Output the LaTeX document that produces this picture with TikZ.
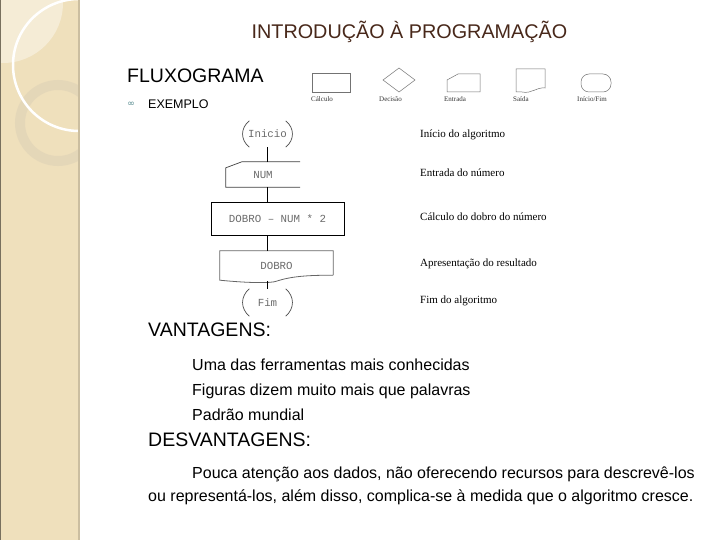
\documentclass[tikz,border=0pt]{standalone}
\usepackage{fontspec}
\setmainfont{Liberation Sans}
\newfontfamily\serifa{Liberation Serif}
\newfontfamily\monoa{Liberation Mono}
\newfontfamily\simbolo{DejaVu Sans}
\usepackage{xcolor}
\usetikzlibrary{calc}
\usetikzlibrary{shapes}

\definecolor{faixa}{RGB}{239,224,188}
\definecolor{faixaborda}{RGB}{203,190,160}
\definecolor{clara}{RGB}{245,236,214}
\definecolor{anel}{RGB}{226,213,184}
\definecolor{titulo}{RGB}{72,40,26}
\definecolor{marca}{RGB}{82,136,140}

\tikzset{
  fluxo/.style={inner sep=0pt, font=\monoa\fontsize{10.8}{11}\selectfont, text=black!58},
  legpeca/.style={draw=black!55, line width=0.5pt},
  rotulo/.style={anchor=base west, inner sep=0pt, font=\serifa\fontsize{7}{8}\selectfont, text=black!80},
  nota/.style={anchor=base west, inner sep=0pt, font=\serifa\fontsize{11}{12}\selectfont},
  cabeca/.style={anchor=base west, inner sep=0pt, font=\fontsize{19.5}{22}\selectfont},
  item/.style={anchor=base west, inner sep=0pt, font=\fontsize{16}{18}\selectfont}
}

\begin{document}
\begin{tikzpicture}[x=1pt,y=-1pt]
\useasboundingbox (0,0) rectangle (720,540);
\fill[white] (0,0) rectangle (720,540);

\fill[faixa] (0,0) rectangle (78,540);
\begin{scope}
\clip (0,0) rectangle (78,540);
\fill[clara] (3,3) circle (60);
\draw[anel, line width=10, opacity=0.8] (58,123) circle (38);
\draw[white, line width=2.5] (79,65) circle (66);
\end{scope}
\fill[faixaborda] (78,0) rectangle (80,540);
\draw[black!50!faixa] (0.5,0) -- (0.5,540);

\node[inner sep=0pt, font=\fontsize{19.8}{22}\selectfont, text=titulo] (titulo) at (409.5,32) {INTRODUÇÃO À PROGRAMAÇÃO};
\node[cabeca] (fluxograma) at (127,83) {FLUXOGRAMA};
\node[inner sep=0pt, font=\simbolo\fontsize{9}{9}\selectfont, text=marca] (bala) at (131,104) {∞};
\node[anchor=base west, inner sep=0pt, font=\fontsize{12.5}{14}\selectfont] (exemplo) at (148,108.5) {EXEMPLO};

\draw[legpeca] (312,73) rectangle (350,92);
\draw[legpeca] (383,80) -- (399,68) -- (415,80) -- (399,92) -- cycle;
\draw[legpeca] (480,74) -- (458,74) -- (447,80) -- (447,92) -- (480,92) -- cycle;
\draw[legpeca] (516,69) -- (545,69) -- (545,88) .. controls (536,87) and (532,94) .. (522,92) -- (516,92) -- cycle;
\draw[legpeca, rounded corners=8] (581,74) rectangle (611,92);
\node[rotulo] (lcalc) at (311,102) {Cálculo};
\node[rotulo] (ldec) at (379,102) {Decisão};
\node[rotulo] (lent) at (444,102) {Entrada};
\node[rotulo] (lsai) at (513,102) {Saída};
\node[rotulo] (lini) at (577,102) {Início/Fim};

\node[fluxo, minimum width=50, minimum height=26] (ini) at (267.5,134) {Inicio};
\node[fluxo, minimum width=74, minimum height=25] (ent) at (263,174.5) {NUM};
\node[fluxo, draw=black, line width=0.8pt, minimum width=133, minimum height=33] (calc) at (277.5,218.5) {DOBRO – NUM * 2};
\node[fluxo, minimum width=113, minimum height=30] (sai) at (276.5,266) {DOBRO};
\node[fluxo, minimum width=50, minimum height=27] (fim) at (267.5,302.5) {Fim};

\draw[black!70, line width=0.7pt]
  ($(ini.north west)+(7,0)$) .. controls ($(ini.west)+(-2,-6)$) and ($(ini.west)+(-2,6)$) .. ($(ini.south west)+(7,0)$)
  ($(ini.north east)+(-7,0)$) .. controls ($(ini.east)+(2,-6)$) and ($(ini.east)+(2,6)$) .. ($(ini.south east)+(-7,0)$);
\draw[black!70, line width=0.7pt]
  ($(fim.north west)+(7,0)$) .. controls ($(fim.west)+(-2,-6)$) and ($(fim.west)+(-2,6)$) .. ($(fim.south west)+(7,0)$)
  ($(fim.north east)+(-7,0)$) .. controls ($(fim.east)+(2,-6)$) and ($(fim.east)+(2,6)$) .. ($(fim.south east)+(-7,0)$);
\draw[black!75, line width=0.7pt]
  (ent.north east) -- ($(ent.north west)+(16,0)$) -- ($(ent.north west)+(0,6)$) -- (ent.south west) -- (ent.south east);
\draw[black!60, line width=0.8pt]
  ($(sai.south east)+(0,-6)$) -- (sai.north east) -- (sai.north west) -- ($(sai.south west)+(0,-1)$)
  .. controls ($(sai.south west)+(30,2)$) and ($(sai.south)+(-5,2)$) .. (sai.south)
  .. controls ($(sai.south)+(15,-5)$) and ($(sai.south east)+(-25,-6)$) .. ($(sai.south east)+(0,-6)$);

\draw[black, line width=0.8pt] (ini.south) -- (ini.south |- ent.north);
\draw[black, line width=0.8pt] (ini.south |- ent.south) -- (ini.south |- calc.north);
\draw[black, line width=0.8pt] (ini.south |- calc.south) -- (ini.south |- sai.north);
\draw[black, line width=0.8pt] (ini.south |- sai.south) -- (fim.north);

\node[nota] (n1) at (420,137.5) {Início do algoritmo};
\node[nota] (n2) at (420,176.5) {Entrada do número};
\node[nota] (n3) at (420,220.5) {Cálculo do dobro do número};
\node[nota] (n4) at (420,266.5) {Apresentação do resultado};
\node[nota] (n5) at (420,303.5) {Fim do algoritmo};

\node[cabeca] (vant) at (148,336) {VANTAGENS:};
\node[item] (v1) at (192,370) {Uma das ferramentas mais conhecidas};
\node[item] (v2) at (192,395) {Figuras dizem muito mais que palavras};
\node[item] (v3) at (192,420) {Padrão mundial};
\node[cabeca] (desv) at (148,446) {DESVANTAGENS:};
\node[item] (d1) at (192,478) {Pouca atenção aos dados, não oferecendo recursos para descrevê-los};
\node[item] (d2) at (148,501) {ou representá-los, além disso, complica-se à medida que o algoritmo cresce.};
\end{tikzpicture}
\end{document}
